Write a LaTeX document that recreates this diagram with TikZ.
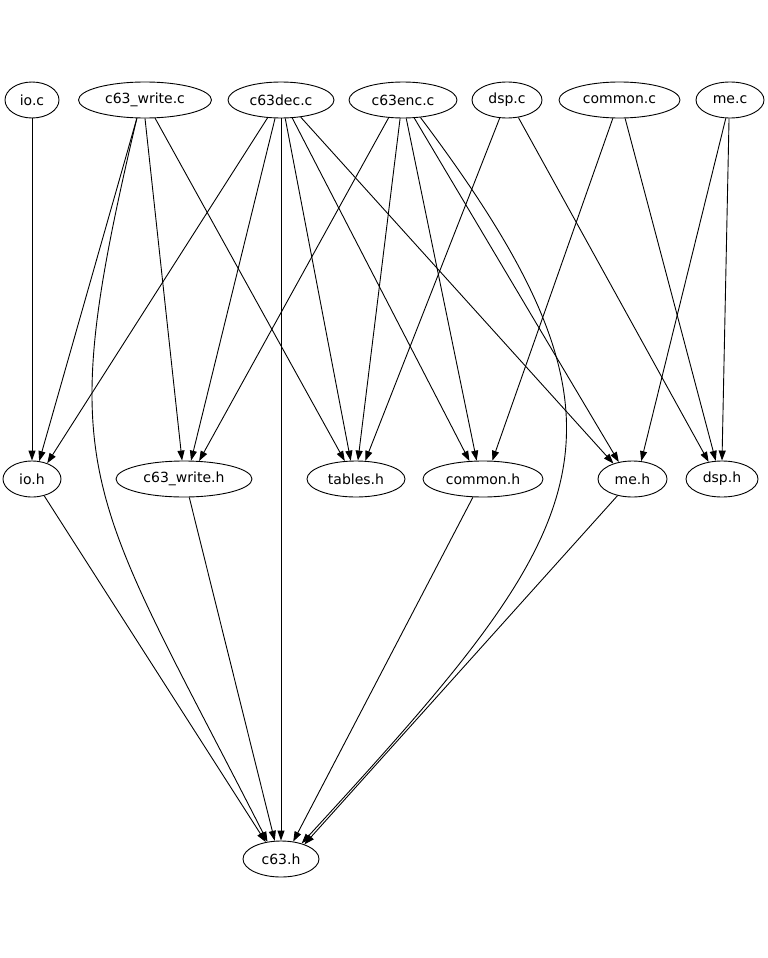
\documentclass[tikz,border=0pt]{standalone}
\usepackage{fontspec}
\setmainfont{DejaVu Sans}
\usetikzlibrary{arrows.meta,shapes.geometric}
\begin{document}
\begin{tikzpicture}[x=1pt,y=-1pt,
  nd/.style={draw, ellipse, minimum height=36pt, inner sep=0pt, line width=0.9pt,
             font=\fontsize{14}{16}\selectfont},
  ed/.style={draw, line width=0.9pt, -{Triangle[length=10pt,width=7pt]}}]
\useasboundingbox (0,0) rectangle (768,958);
% top row
\node[nd, minimum width=54pt]  (ioc)       at (32,100)    {io.c};
\node[nd, minimum width=133pt] (c63writec) at (145,100)   {c63\_write.c};
\node[nd, minimum width=106pt] (c63decc)   at (281,100)   {c63dec.c};
\node[nd, minimum width=108pt] (c63encc)   at (403,100)   {c63enc.c};
\node[nd, minimum width=70pt]  (dspc)      at (507,100)   {dsp.c};
\node[nd, minimum width=121pt] (commonc)   at (619.5,100) {common.c};
\node[nd, minimum width=68pt]  (mec)       at (730,100)   {me.c};
% middle row
\node[nd, minimum width=58pt]  (ioh)       at (32,479)    {io.h};
\node[nd, minimum width=136pt] (c63writeh) at (184,479)   {c63\_write.h};
\node[nd, minimum width=98pt]  (tablesh)   at (356,479)   {tables.h};
\node[nd, minimum width=120pt] (commonh)   at (483,479)   {common.h};
\node[nd, minimum width=69pt]  (meh)       at (632.5,479) {me.h};
\node[nd, minimum width=72pt]  (dsph)      at (722,479)   {dsp.h};
% bottom
\node[nd, minimum width=76pt]  (c63h)      at (281,859)   {c63.h};

% edges
\draw[ed] (ioc.270) -- (ioh.90);
\draw[ed] (c63writec.246) -- (ioh.68);
\draw[ed] (c63writec.270) -- (c63writeh.96);
\draw[ed] (c63writec.299) -- (tablesh.122);
\draw[ed] (c63writec.246) .. controls (52,478) and (84,482) .. (c63h.128);

\draw[ed] (c63decc.233) -- (ioh.46);
\draw[ed] (c63decc.252) -- (c63writeh.69);
\draw[ed] (c63decc.270) -- (c63h.90);
\draw[ed] (c63decc.283) -- (tablesh.106);
\draw[ed] (c63decc.302) -- (commonh.127);
\draw[ed] (c63decc.319) -- (meh.141);

\draw[ed] (c63encc.231) -- (c63writeh.50);
\draw[ed] (c63encc.261) -- (tablesh.84);
\draw[ed] (c63encc.280) -- (commonh.109);
\draw[ed] (c63encc.302) -- (meh.129);
\draw[ed] (c63encc.315) .. controls (659,435) and (594,525) .. (c63h.37);

\draw[ed] (dspc.248) -- (tablesh.63);
\draw[ed] (dspc.303) -- (dsph.128);
\draw[ed] (commonc.250) -- (commonh.63);
\draw[ed] (commonc.287) -- (dsph.109);
\draw[ed] (mec.257) -- (meh.64);
\draw[ed] (mec.267) -- (dsph.90);

\draw[ed] (ioh.306) -- (c63h.132);
\draw[ed] (c63writeh.286) -- (c63h.109);
\draw[ed] (commonh.241) -- (c63h.55);
\draw[ed] (meh.228) -- (c63h.32);
\end{tikzpicture}
\end{document}
